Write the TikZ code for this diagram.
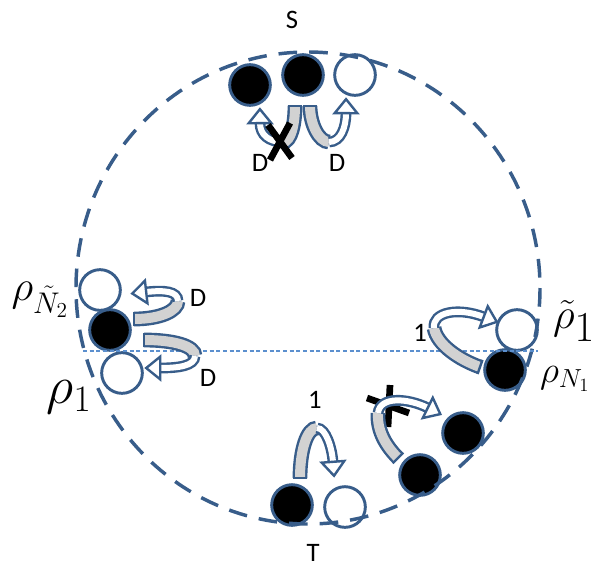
\documentclass[tikz,border=0pt]{standalone}
\usepackage{fix-cm}
\usepackage{amsmath}
\usepackage{fontspec}
\newfontfamily\calib{Carlito}
\usepackage{tikz}
\usetikzlibrary{decorations.markings}

\definecolor{pptblue}{RGB}{56,93,138}
\definecolor{bandgrey}{RGB}{210,210,210}
\definecolor{axisblue}{RGB}{91,143,206}

\begin{document}
\begin{tikzpicture}[
      x=0.75pt, y=-0.75pt,
      site/.style={circle, draw=pptblue, line width=2.2pt, minimum size=30.5pt,
                   inner sep=0pt},
      fullsite/.style={site, fill=black},
      holesite/.style={site, fill=white},
      lbl/.style={font=\calib\fontsize{20}{24}\selectfont, inner sep=0pt},
      rholbl/.style={font=\fontsize{32}{36}\selectfont, inner sep=0pt},
      bigrho/.style={font=\fontsize{40}{44}\selectfont, inner sep=0pt},
      ring/.style={draw=pptblue, line width=2.6pt, dash pattern=on 14pt off 9pt},
      band/.style={draw=pptblue, line width=1.8pt, double=bandgrey,
                   double distance=7.5pt,
                   postaction={decorate, decoration={markings,
                     mark=at position 0 with {\draw[pptblue, line width=1.8pt]
                       (0pt,-5.6pt) -- (0pt,5.6pt);}}}},
      hop/.style={draw=pptblue, line width=1.8pt, double=white,
                  double distance=4.5pt,
                  postaction={decorate, decoration={markings,
                    mark=at position 0.995 with {\filldraw[draw=pptblue,
                      fill=white, line width=1.8pt] (10.5pt,0pt) -- (0pt,8.5pt)
                      -- (0pt,-8.5pt) -- cycle;}}}},
      blockmark/.style={draw=black, line width=5pt}]

  \useasboundingbox (0,0) rectangle (598,567);

  % sites on the ring
  \node[fullsite] (s1) at (250,85) {};
  \node[fullsite] (s2) at (303,75) {};
  \node[holesite] (s3) at (355,75) {};
  \node[holesite] (l1) at (100,290) {};
  \node[fullsite] (l2) at (110,330) {};
  \node[holesite] (l3) at (122,373) {};
  \node[holesite] (r1) at (517,330) {};
  \node[fullsite] (r2) at (505,370) {};
  \node[fullsite] (b1) at (292,505) {};
  \node[holesite] (b2) at (345,507) {};
  \node[fullsite] (c1) at (420,475) {};
  \node[fullsite] (c2) at (463,433) {};

  \draw[ring] (308,288) ellipse [x radius=232, y radius=236];

  \coordinate (axl) at (83,351);
  \coordinate (axr) at (538,351);
  \draw[axisblue, line width=0.8pt, dash pattern=on 3pt off 2pt] (axl) -- (axr);

  % top, S
  \coordinate (tl) at (283,142);
  \coordinate (tr) at (329,142);
  \draw[band] ([shift={(-8,31)}]s2.center) .. controls +(0,18) and +(8,0) .. (tl);
  \draw[hop] (tl) .. controls +(-14,0) and +(0,12) .. ([shift={(10,38)}]s1.center);
  \draw[band] ([shift={(7,31)}]s2.center) .. controls +(0,18) and +(-10,0) .. (tr);
  \draw[hop] (tr) .. controls +(12,0) and +(0,14) .. ([shift={(-9,38)}]s3.center);
  \draw[blockmark] (268,125) -- (292,158) (290,123) -- (270,160);
  \node[lbl] (sname) at (292,20) {S};
  \node[lbl] (dsl) at (260,163) {D};
  \node[lbl] (dsr) at (337,163) {D};

  % left
  \coordinate (lu) at (178,301);
  \coordinate (ll) at (195,356);
  \draw[band] ([shift={(24,-11)}]l2.center) .. controls +(26,0) and +(0,10) .. (lu);
  \draw[hop] (lu) .. controls +(0,-10) and +(18,-2) .. ([shift={(46,2)}]l1.center);
  \draw[band] ([shift={(34,10)}]l2.center) .. controls +(30,0) and +(0,-10) .. (ll);
  \draw[hop] (ll) .. controls +(0,10) and +(18,0) .. ([shift={(38,-5)}]l3.center);
  \node[lbl] (dlu) at (198,298) {D};
  \node[lbl] (dll) at (208,378) {D};
  \node[rholbl] (rhon2) at (40,300) {$\rho_{\tilde{N}_2}$};
  \node[bigrho] (rhol) at (69,397) {$\rho_1$};

  % right
  \coordinate (rt) at (434,328);
  \draw[band] ([shift={(-25,-3)}]r2.center) .. controls +(-20,-7) and +(3,17) .. (rt);
  \draw[hop] (rt) .. controls +(-2,-16) and +(-26,-10) .. ([shift={(-33,-13)}]r1.center);
  \node[lbl] (onr) at (420,333) {1};
  \node[rholbl] (rhotl) at (574,321) {$\tilde{\rho}_{\textstyle 1}$};
  \node[rholbl, font=\fontsize{28}{32}\selectfont] (rhon1) at (565,379)
    {$\rho_{N_1}$};

  % bottom, T
  \coordinate (bt) at (317,428);
  \draw[band] ([shift={(8,-27)}]b1.center) .. controls +(0,-28) and +(-10,0) .. (bt);
  \draw[hop] (bt) .. controls +(9,0) and +(-1,-14) .. ([shift={(-12,-45)}]b2.center);
  \draw[blockmark] (367,398) -- (409,413) (390,385) -- (388,427);
  \coordinate (ct) at (378,413);
  \draw[band] ([shift={(-22,-17)}]c1.center) .. controls +(-13,-13) and +(-1,17) .. (ct);
  \draw[hop] (ct) .. controls +(2,-17) and +(-20,-10) .. ([shift={(-35,-25)}]c2.center);
  \node[lbl] (onb) at (315,400) {1};
  \node[lbl] (tname) at (313,553) {T};
\end{tikzpicture}
\end{document}
